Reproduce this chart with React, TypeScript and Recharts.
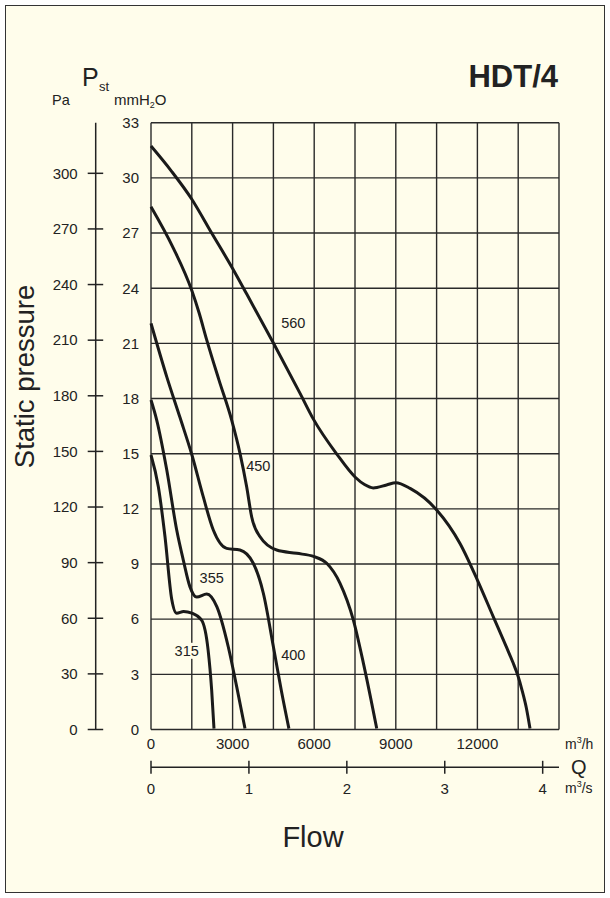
import { LineChart, Line, XAxis, YAxis, CartesianGrid, ReferenceDot } from 'recharts';

// flow axis (m3/h) and the m3/s scale under it
const flowTicks = [0, 1500, 3000, 4500, 6000, 7500, 9000, 10500, 12000, 13500, 15000];
const flowLabels = ['0', '', '3000', '', '6000', '', '9000', '', '12000', '', ''];
const secTicks = [0, 1, 2, 3, 4];

// pressure axes
const mmTicks = [0, 3, 6, 9, 12, 15, 18, 21, 24, 27, 30, 33];
const paTicks = [0, 30, 60, 90, 120, 150, 180, 210, 240, 270, 300];

// fan sizes (Q in m3/h, Pst in mmH2O)
const sizes = ['315', '355', '400', '450', '560'];

const q315 = [0, 270, 515, 760, 945, 1200, 1500, 1860, 2100, 2230, 2316];
const p315 = [14.93, 13.2, 10.48, 7.1, 6.32, 6.42, 6.33, 5.95, 4.32, 2.15, 0.05];

const q355 = [0, 210, 580, 945, 1190, 1430, 1680, 2050, 2420, 2840, 3150, 3456];
const p355 = [17.92, 16.83, 14.11, 10.85, 9.2, 7.77, 7.2, 7.37, 6.68, 4.5, 2.33, 0.05];

const q400 = [0, 580, 1070, 1510, 1920, 2290, 2780, 3270, 3760, 4130, 4500, 4800, 5070];
const p400 = [22.09, 19.18, 16.95, 14.9, 12.66, 10.85, 9.85, 9.76, 9.04, 7.41, 4.5, 2.05, 0.05];

const q450 = [0, 820, 1500, 1770, 2040, 2500, 2966, 3272, 3517, 3700, 4010, 4620, 5360, 6000, 6460, 6950, 7440, 7810, 8300];
const p450 = [28.43, 26.18, 23.87, 22.65, 21.23, 19.0, 16.83, 15.02, 13.2, 11.57, 10.48, 9.76, 9.58, 9.4, 9.04, 7.95, 5.95, 3.6, 0.05];

const q560 = [0, 750, 1500, 2230, 3000, 3520, 4510, 5480, 5970, 6830, 7510, 7850, 8170, 8660, 9000, 9526, 10503, 11360, 12000, 12585, 13077, 13300, 13493, 13650, 13800, 13934];
const p560 = [31.73, 30.37, 28.84, 27.0, 25.07, 23.68, 20.99, 18.28, 16.88, 14.98, 13.72, 13.32, 13.14, 13.3, 13.42, 13.11, 11.94, 10.12, 8.13, 6.13, 4.45, 3.67, 2.91, 2.09, 1.17, 0.05];

// where the size labels sit
const labelQ = [1313, 2232, 5232, 3945, 5232];
const labelP = [4.28, 8.25, 4.05, 14.33, 22.09];

const flows = [q315, q355, q400, q450, q560];
const pressures = [p315, p355, p400, p450, p560];

const series = sizes.map((name, i) => ({
  name,
  data: flows[i].map((q, j) => ({ q, p: pressures[i][j] })),
}));

const BG = '#fffdeb';
const INK = '#222';
const FONT = '"Liberation Sans", Arial, Helvetica, sans-serif';

const PaTick = (props: any) => {
  const { x, y, payload } = props;
  const axisX = x + 18; // tickSize + tickMargin
  return (
    <g>
      <line x1={axisX - 8} x2={axisX + 7.5} y1={y} y2={y} stroke={INK} strokeWidth={1.5} />
      <text x={x} y={y} dy="0.355em" textAnchor="end" fontSize={15} fill={INK}>
        {payload.value}
      </text>
    </g>
  );
};

const SecTick = (props: any) => {
  const { x, y, payload } = props;
  const axisY = y - 16;
  return (
    <g>
      <line x1={x} x2={x} y1={axisY - 6.5} y2={axisY + 6.5} stroke={INK} strokeWidth={1.5} />
      <text x={x} y={y} dy="0.71em" textAnchor="middle" fontSize={15} fill={INK}>
        {Math.round(payload.value / 3600)}
      </text>
    </g>
  );
};

const SizeLabel = (props: any) => {
  const { viewBox, value, bg } = props;
  const cx = viewBox.x + viewBox.width / 2;
  const cy = viewBox.y + viewBox.height / 2;
  return (
    <g>
      {bg && <rect x={cx - 13} y={cy - 8} width={26} height={16} fill={BG} />}
      <text x={cx} y={cy} dy="0.355em" textAnchor="middle" fontSize={14.5} fill={INK}>
        {value}
      </text>
    </g>
  );
};

export default function App() {
  return (
    <div style={{ position: 'absolute', left: 0, top: 0, width: 610, height: 898, background: '#fff', fontFamily: FONT }}>
      <div
        style={{
          position: 'absolute',
          left: 5,
          top: 5,
          width: 598,
          height: 886,
          background: BG,
          border: '1.5px solid #333',
        }}
      />
      <div style={{ position: 'absolute', left: 0, top: 0 }}>
        <LineChart width={610} height={898} margin={{ top: 122.7, right: 51, bottom: 90.7, left: 45.7 }}>
          <CartesianGrid xAxisId="h" yAxisId="mm" stroke="#2a2a2a" strokeWidth={1.4} />
          <XAxis
            xAxisId="h"
            type="number"
            dataKey="q"
            domain={[0, 15000]}
            ticks={flowTicks}
            interval={0}
            tickFormatter={(v: number) => flowLabels[flowTicks.indexOf(v)] ?? ''}
            axisLine={false}
            tickLine={false}
            tickSize={4}
            tickMargin={5}
            height={37.8}
            tick={{ fontSize: 15, fill: INK }}
          />
          <XAxis
            xAxisId="s"
            type="number"
            dataKey="q"
            domain={[0, 15000]}
            allowDataOverflow
            ticks={secTicks.map((v) => v * 3600)}
            interval={0}
            axisLine={{ stroke: INK, strokeWidth: 1.5 }}
            tickLine={false}
            tickSize={7}
            tickMargin={9}
            height={40}
            tick={<SecTick />}
          />
          <YAxis
            yAxisId="mm"
            type="number"
            domain={[0, 33]}
            ticks={mmTicks}
            interval={0}
            axisLine={false}
            tickLine={false}
            tickSize={6}
            tickMargin={6}
            width={55.3}
            tick={{ fontSize: 15, fill: INK }}
          />
          <YAxis
            yAxisId="pa"
            type="number"
            domain={[0, 327.3]}
            allowDataOverflow
            ticks={paTicks}
            interval={0}
            axisLine={{ stroke: INK, strokeWidth: 1.5 }}
            tickLine={false}
            tickSize={8}
            tickMargin={10}
            width={50}
            tick={<PaTick />}
          />
          {series.map((s) => (
            <Line
              key={s.name}
              data={s.data}
              xAxisId="h"
              yAxisId="mm"
              dataKey="p"
              type="monotone"
              stroke="#1a1a1a"
              strokeWidth={3}
              dot={false}
              activeDot={false}
              isAnimationActive={false}
            />
          ))}
          {sizes.map((name, i) => (
            <ReferenceDot
              key={'l' + name}
              xAxisId="h"
              yAxisId="mm"
              x={labelQ[i]}
              y={labelP[i]}
              r={0}
              fill="none"
              stroke="none"
              label={<SizeLabel value={name} bg={name === '315'} />}
            />
          ))}
        </LineChart>
      </div>
      <svg width={610} height={898} style={{ position: 'absolute', left: 0, top: 0, pointerEvents: 'none' }}>
        <text x={558} y={87} textAnchor="end" fontSize={31} fontWeight="bold" fill={INK}>
          HDT/4
        </text>
        <text x={52} y={105} fontSize={14.5} fill={INK}>
          Pa
        </text>
        <text x={82} y={86} fontSize={25} fill={INK}>
          P
        </text>
        <text x={99} y={91} fontSize={13} fill={INK}>
          st
        </text>
        <text x={114} y={105} fontSize={15} fill={INK}>
          mmH
          <tspan fontSize={9} dy={3}>
            2
          </tspan>
          <tspan dy={-3}>O</tspan>
        </text>
        <text transform="translate(34, 376.5) rotate(-90)" textAnchor="middle" fontSize={27.5} fill={INK}>
          Static pressure
        </text>
        <text x={313} y={847} textAnchor="middle" fontSize={29} fill={INK}>
          Flow
        </text>
        <text x={565} y={749} fontSize={14} fill={INK}>
          m
          <tspan fontSize={9} dy={-6}>
            3
          </tspan>
          <tspan dy={6}>/h</tspan>
        </text>
        <text x={571} y={774} fontSize={20} fill={INK}>
          Q
        </text>
        <text x={565} y={793} fontSize={14} fill={INK}>
          m
          <tspan fontSize={9} dy={-6}>
            3
          </tspan>
          <tspan dy={6}>/s</tspan>
        </text>
      </svg>
    </div>
  );
}
